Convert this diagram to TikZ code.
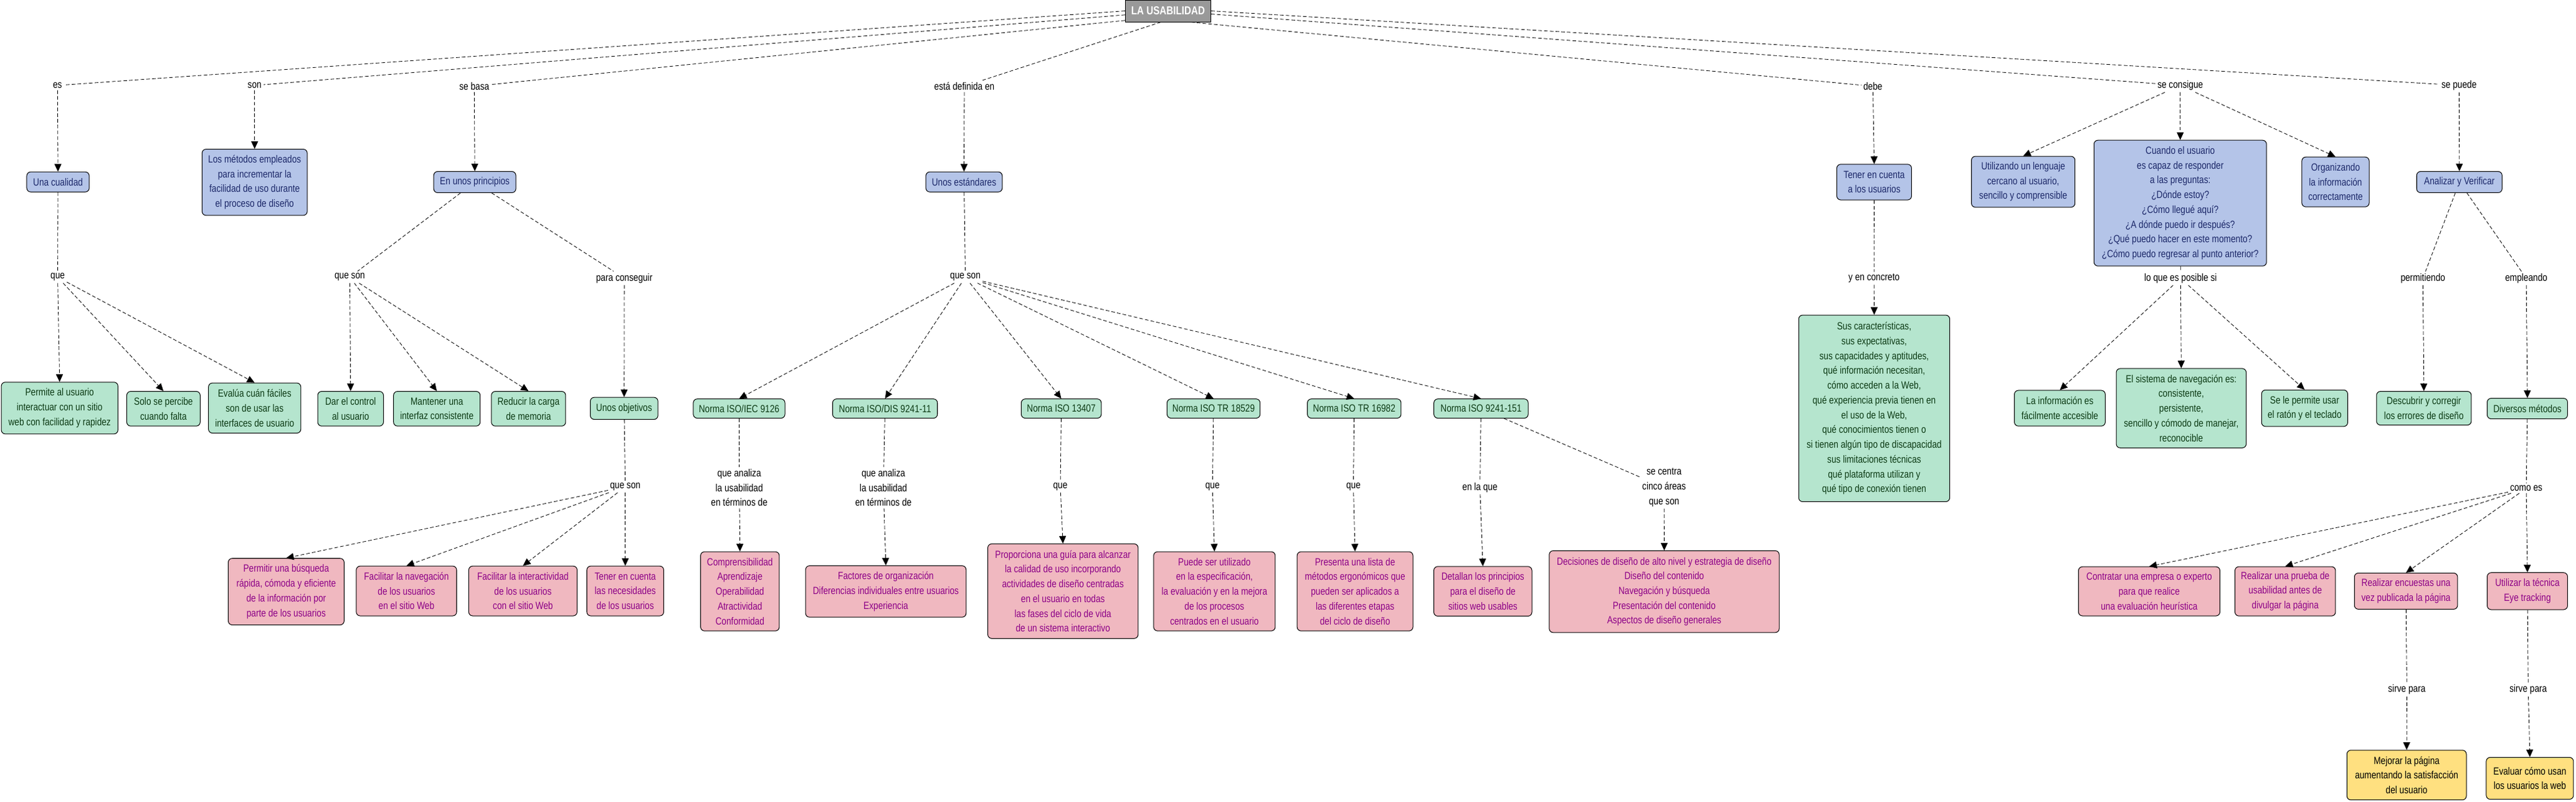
\documentclass[tikz,border=0pt]{standalone}
\usepackage{fontspec}
\setmainfont{Liberation Sans}[FakeStretch=0.82]
\usetikzlibrary{arrows.meta}
\definecolor{bluef}{RGB}{180,196,232}
\definecolor{bluet}{RGB}{28,40,105}
\definecolor{greenf}{RGB}{181,229,206}
\definecolor{greent}{RGB}{12,58,20}
\definecolor{pinkf}{RGB}{240,184,192}
\definecolor{pinkt}{RGB}{140,0,135}
\definecolor{yellf}{RGB}{255,224,128}
\definecolor{rootf}{RGB}{153,153,153}
\begin{document}
\begin{tikzpicture}[x=1mm,y=-1mm,
  every node/.style={font=\fontsize{18}{25.6}\selectfont, align=center, inner sep=0pt},
  sz/.style 2 args={minimum width=#1mm, minimum height=#2mm},
  box/.style={draw=black, line width=1.1pt, rounded corners=2.4mm},
  bbox/.style={box, fill=bluef, text=bluet},
  gbox/.style={box, fill=greenf, text=greent},
  pbox/.style={box, fill=pinkf, text=pinkt},
  ybox/.style={box, fill=yellf, text=black},
  lab/.style={inner sep=1.2mm, text=black},
  link/.style={dash pattern=on 2.2mm off 1.3mm, line width=0.9pt},
  arr/.style={link, -{Triangle[length=4.6mm,width=4.2mm]}},
]
\useasboundingbox (0,0) rectangle (1568,488.4);

% root
\node[draw=black, line width=1.2pt, fill=rootf, text=white, font=\fontsize{20}{24}\selectfont\bfseries, sz={52}{13.3}] (root) at (711,6.65) {LA USABILIDAD};

% level-1 labels
\node[lab] (l_es) at (35,52) {es};
\node[lab] (l_son) at (155,52) {son};
\node[lab] (l_basa) at (288.7,52.5) {se basa};
\node[lab] (l_def) at (587,52.5) {está definida en};
\node[lab] (l_debe) at (1140,52.5) {debe};
\node[lab] (l_cons) at (1327.1,52) {se consigue};
\node[lab] (l_puede) at (1496.8,52) {se puede};

% blue concepts
\node[bbox,sz={38}{12.2}] (cual) at (35.3,110.8) {Una cualidad};
\node[bbox,sz={64}{40.3}] (metodos) at (155,111) {Los métodos empleados\\para incrementar la\\facilidad de uso durante\\el proceso de diseño};
\node[bbox,sz={50}{12.9}] (princ) at (289,110.9) {En unos principios};
\node[bbox,sz={46.5}{12.2}] (estand) at (586.8,110.8) {Unos estándares};
\node[bbox,sz={45.5}{21.7}] (tener) at (1140.8,110.9) {Tener en cuenta\\a los usuarios};
\node[bbox,sz={63}{31}] (utiliz) at (1231.5,110.7) {Utilizando un lenguaje\\cercano al usuario,\\sencillo y comprensible};
\node[bbox,sz={105}{76.6}] (cuando) at (1327.1,123.7) {Cuando el usuario\\es capaz de responder\\a las preguntas:\\¿Dónde estoy?\\¿Cómo llegué aquí?\\¿A dónde puedo ir después?\\¿Qué puedo hacer en este momento?\\¿Cómo puedo regresar al punto anterior?};
\node[bbox,sz={41}{30.3}] (organiz) at (1421.6,110.8) {Organizando\\la información\\correctamente};
\node[bbox,sz={52}{12.9}] (analizar) at (1497,110.9) {Analizar y Verificar};

% level-2 labels
\node[lab] (l_que1) at (35.1,168.8) {que};
\node[lab] (l_qs1) at (212.9,168.8) {que son};
\node[lab] (l_para) at (380,169.4) {para conseguir};
\node[lab] (l_qs2) at (587.6,168.8) {que son};
\node[lab] (l_concr) at (1140.7,169.5) {y en concreto};
\node[lab] (l_pos) at (1327.3,169.5) {lo que es posible si};
\node[lab] (l_permit) at (1474.8,169.5) {permitiendo};
\node[lab] (l_emple) at (1537.7,169.5) {empleando};

% green concepts
\node[gbox,sz={71}{31.5}] (perm) at (36.3,248.5) {Permite al usuario\\interactuar con un sitio\\web con facilidad y rapidez};
\node[gbox,sz={44.7}{21.1}] (solo) at (99.5,248.9) {Solo se percibe\\cuando falta};
\node[gbox,sz={56.2}{30.5}] (evalua) at (155,248.5) {Evalúa cuán fáciles\\son de usar las\\interfaces de usuario};
\node[gbox,sz={40}{21.1}] (dar) at (213.4,248.9) {Dar el control\\al usuario};
\node[gbox,sz={52.7}{21.1}] (mant) at (265.9,248.9) {Mantener una\\interfaz consistente};
\node[gbox,sz={45.2}{21.1}] (reduc) at (321.7,248.9) {Reducir la carga\\de memoria};
\node[gbox,sz={41.2}{13.4}] (objet) at (379.9,248.7) {Unos objetivos};
\node[gbox,sz={55.8}{11.7}] (iso1) at (449.9,248.8) {Norma ISO/IEC 9126};
\node[gbox,sz={63.8}{11.7}] (iso2) at (538.7,248.8) {Norma ISO/DIS 9241-11};
\node[gbox,sz={48.7}{11.7}] (iso3) at (646,248.8) {Norma ISO 13407};
\node[gbox,sz={56.6}{11.7}] (iso4) at (738.7,248.8) {Norma ISO TR 18529};
\node[gbox,sz={57}{11.7}] (iso5) at (824.3,248.8) {Norma ISO TR 16982};
\node[gbox,sz={57.4}{11.7}] (iso6) at (901.5,248.8) {Norma ISO 9241-151};
\node[gbox,sz={91.9}{113.6}] (sus) at (1140.8,248.7) {Sus características,\\sus expectativas,\\sus capacidades y aptitudes,\\qué información necesitan,\\cómo acceden a la Web,\\qué experiencia previa tienen en\\el uso de la Web,\\qué conocimientos tienen o\\si tienen algún tipo de discapacidad\\sus limitaciones técnicas\\qué plataforma utilizan y\\qué tipo de conexión tienen};
\node[gbox,sz={55.3}{21.7}] (infoacc) at (1253.8,248.6) {La información es\\fácilmente accesible};
\node[gbox,sz={79.1}{48.3}] (sistnav) at (1327.7,248.6) {El sistema de navegación es:\\consistente,\\persistente,\\sencillo y cómodo de manejar,\\reconocible};
\node[gbox,sz={52.4}{22.2}] (raton) at (1402.8,248.6) {Se le permite usar\\el ratón y el teclado};
\node[gbox,sz={57.7}{20.5}] (descub) at (1475.4,248.6) {Descubrir y corregir\\los errores de diseño};
\node[gbox,sz={48.9}{12.5}] (diversos) at (1538.4,248.8) {Diversos métodos};

% level-3 labels
\node[lab] (l_qs3) at (380.6,296.4) {que son};
\node[lab] (l_an1) at (450,297) {que analiza\\la usabilidad\\en términos de};
\node[lab] (l_an2) at (537.7,297) {que analiza\\la usabilidad\\en términos de};
\node[lab] (l_q13) at (645.4,296.4) {que};
\node[lab] (l_q18) at (738,296.4) {que};
\node[lab] (l_q16) at (823.8,296.4) {que};
\node[lab] (l_enla) at (900.8,296.8) {en la que};
\node[lab] (l_centra) at (1012.9,296.8) {se centra\\cinco áreas\\que son};
\node[lab] (l_como) at (1537.7,297.4) {como es};

% pink concepts
\node[pbox,sz={70.5}{40.5}] (busq) at (174.2,360.3) {Permitir una búsqueda\\rápida, cómoda y eficiente\\de la información por\\parte de los usuarios};
\node[pbox,sz={61.1}{30.3}] (facnav) at (247.4,359.9) {Facilitar la navegación\\de los usuarios\\en el sitio Web};
\node[pbox,sz={66}{30.3}] (facint) at (318.3,359.9) {Facilitar la interactividad\\de los usuarios\\con el sitio Web};
\node[pbox,sz={46.8}{30.3}] (tenernec) at (380.6,359.9) {Tener en cuenta\\las necesidades\\de los usuarios};
\node[pbox,sz={47.9}{48.2}] (compr) at (450.4,360.1) {Comprensibilidad\\Aprendizaje\\Operabilidad\\Atractividad\\Conformidad};
\node[pbox,sz={97.7}{31.3}] (factores) at (539.2,360.2) {Factores de organización\\Diferencias individuales entre usuarios\\Experiencia};
\node[pbox,sz={91.5}{57.6}] (proporc) at (647,360) {Proporciona una guía para alcanzar\\la calidad de uso incorporando\\actividades de diseño centradas\\en el usuario en todas\\las fases del ciclo de vida\\de un sistema interactivo};
\node[pbox,sz={74}{48.2}] (puede) at (739.2,360.1) {Puede ser utilizado\\en la especificación,\\la evaluación y en la mejora\\de los procesos\\centrados en el usuario};
\node[pbox,sz={70.5}{48.2}] (presenta) at (824.8,360.1) {Presenta una lista de\\métodos ergonómicos que\\pueden ser aplicados a\\las diferentes etapas\\del ciclo de diseño};
\node[pbox,sz={59.7}{30.2}] (detallan) at (902.6,360.1) {Detallan los principios\\para el diseño de\\sitios web usables};
\node[pbox,sz={140}{49.8}] (decis) at (1013,360.3) {Decisiones de diseño de alto nivel y estrategia de diseño\\Diseño del contenido\\Navegación y búsqueda\\Presentación del contenido\\Aspectos de diseño generales};
\node[pbox,sz={86.1}{29.9}] (contratar) at (1308.2,360.1) {Contratar una empresa o experto\\para que realice\\una evaluación heurística};
\node[pbox,sz={61.2}{30}] (prueba) at (1391,360.1) {Realizar una prueba de\\usabilidad antes de\\divulgar la página};
\node[pbox,sz={62.8}{22}] (encuestas) at (1464.5,360) {Realizar encuestas una\\vez publicada la página};
\node[pbox,sz={48.9}{22.5}] (eye) at (1538.4,360) {Utilizar la técnica\\Eye tracking};

% level-4 labels
\node[lab] (l_s1) at (1465,420) {sirve para};
\node[lab] (l_s2) at (1538.9,420) {sirve para};

% yellow concepts
\node[ybox,sz={72.7}{30.3}] (mejorar) at (1464.9,472) {Mejorar la página\\aumentando la satisfacción\\del usuario};
\node[ybox,sz={53.1}{25.5}] (evaluar) at (1539.9,474) {Evaluar cómo usan\\los usuarios la web};

% connectors: root to labels (leaving the root at distinct border points)
\draw[link] (root.west) -- (l_es);
\draw[link] ([yshift=-2.4mm]root.west) -- (l_son);
\draw[link] ([yshift=-5.8mm]root.west) -- (l_basa);
\draw[link] ([xshift=-4.5mm]root.south) -- (l_def);
\draw[link] ([xshift=14mm]root.south) -- (l_debe);
\draw[link] ([yshift=-1.9mm]root.east) -- (l_cons);
\draw[link] (root.east) -- (l_puede);
\draw[arr] (l_es) -- (cual.north);
\draw[arr] (l_son) -- (metodos.north);
\draw[arr] (l_basa) -- (princ.north);
\draw[arr] (l_def) -- (estand.north);
\draw[arr] (l_debe) -- (tener.north);
\draw[arr] (l_cons) -- (utiliz.north);
\draw[arr] (l_cons) -- (cuando.north);
\draw[arr] (l_cons) -- (organiz.north);
\draw[arr] (l_puede) -- (analizar.north);

% una cualidad
\draw[link] (cual) -- (l_que1);
\draw[arr] (l_que1) -- (perm.north);
\draw[arr] (l_que1) -- (solo.north);
\draw[arr] (l_que1) -- (evalua.north);

% principios
\draw[link] (princ) -- (l_qs1);
\draw[link] (princ) -- (l_para);
\draw[arr] (l_qs1) -- (dar.north);
\draw[arr] (l_qs1) -- (mant.north);
\draw[arr] (l_qs1) -- (reduc.north);
\draw[arr] (l_para) -- (objet.north);
\draw[link] (objet) -- (l_qs3);
\draw[arr] (l_qs3) -- (busq.north);
\draw[arr] (l_qs3) -- (facnav.north);
\draw[arr] (l_qs3) -- (facint.north);
\draw[arr] (l_qs3) -- (tenernec.north);

% estandares
\draw[link] (estand) -- (l_qs2);
\foreach \n in {iso1,iso2,iso3,iso4,iso5,iso6}
  \draw[arr] (l_qs2) -- (\n.north);
\draw[link] (iso1) -- (l_an1);
\draw[arr] (l_an1) -- (compr.north);
\draw[link] (iso2) -- (l_an2);
\draw[arr] (l_an2) -- (factores.north);
\draw[link] (iso3) -- (l_q13);
\draw[arr] (l_q13) -- (proporc.north);
\draw[link] (iso4) -- (l_q18);
\draw[arr] (l_q18) -- (puede.north);
\draw[link] (iso5) -- (l_q16);
\draw[arr] (l_q16) -- (presenta.north);
\draw[link] (iso6) -- (l_enla);
\draw[arr] (l_enla) -- (detallan.north);
\draw[link] (iso6) -- (l_centra);
\draw[arr] (l_centra) -- (decis.north);

% debe
\draw[link] (tener) -- (l_concr);
\draw[arr] (l_concr) -- (sus.north);

% se consigue
\draw[link] (cuando) -- (l_pos);
\draw[arr] (l_pos) -- (infoacc.north);
\draw[arr] (l_pos) -- (sistnav.north);
\draw[arr] (l_pos) -- (raton.north);

% se puede
\draw[link] (analizar) -- (l_permit);
\draw[link] (analizar) -- (l_emple);
\draw[arr] (l_permit) -- (descub.north);
\draw[arr] (l_emple) -- (diversos.north);
\draw[link] (diversos) -- (l_como);
\draw[arr] (l_como) -- (contratar.north);
\draw[arr] (l_como) -- (prueba.north);
\draw[arr] (l_como) -- (encuestas.north);
\draw[arr] (l_como) -- (eye.north);
\draw[link] (encuestas) -- (l_s1);
\draw[arr] (l_s1) -- (mejorar.north);
\draw[link] (eye) -- (l_s2);
\draw[arr] (l_s2) -- (evaluar.north);
\end{tikzpicture}
\end{document}
